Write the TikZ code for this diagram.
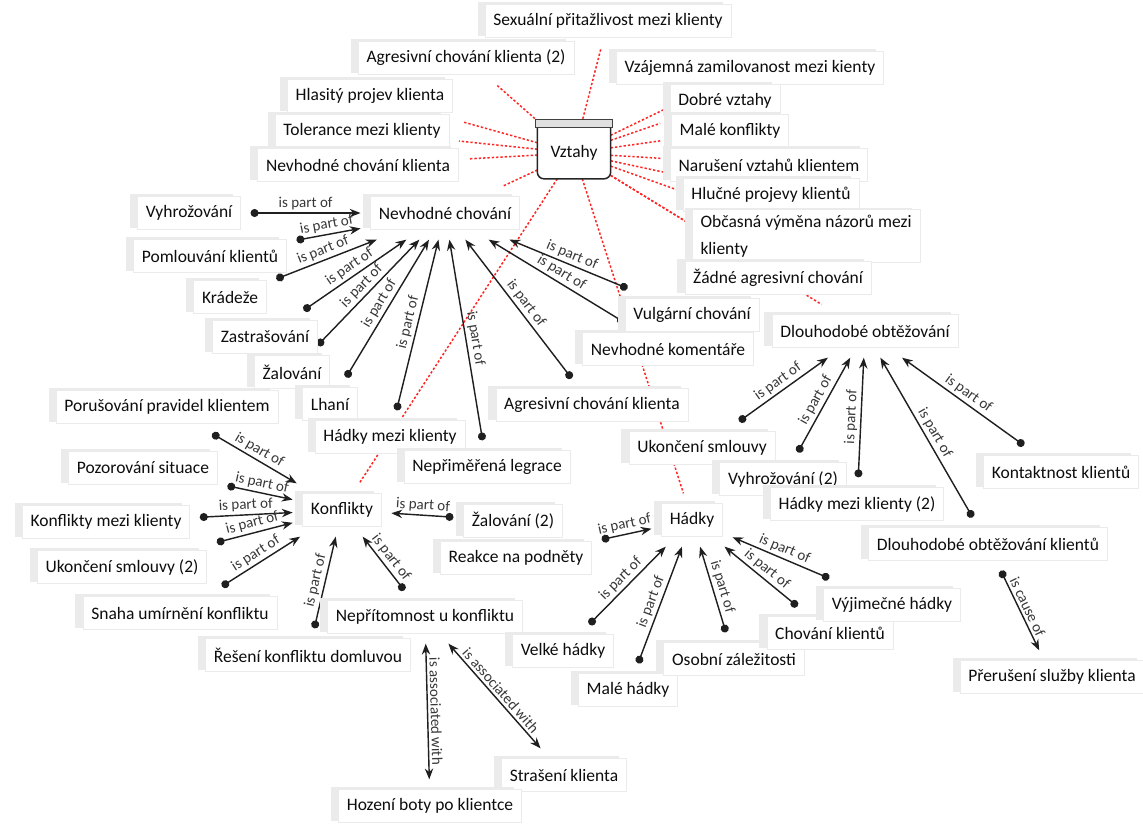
\documentclass[tikz,border=0pt]{standalone}
\usepackage{fontspec}
\setmainfont{Carlito}
\usetikzlibrary{arrows.meta,calc,backgrounds,shadows}

\begin{document}
\begin{tikzpicture}[x=0.6pt, y=-0.6pt,
    code/.style={draw=black!8, fill=white, text=black!95, font=\fontsize{10.5}{16.5}\selectfont,
      inner xsep=5pt, inner ysep=3pt, minimum height=20pt, outer sep=6pt,
      drop shadow={shadow xshift=-4.5pt, shadow yshift=1.2pt, fill=black!8, opacity=1}},
    group/.style={fill=white, text=black!95, font=\fontsize{10.5}{13}\selectfont, minimum width=40pt, minimum height=27pt, outer sep=2pt},
    partof/.style={line width=0.85pt, draw=black!88, {Circle[length=4.8pt]}-{Stealth[length=6.5pt, width=5pt]}},
    assoc/.style={line width=0.85pt, draw=black!88, {Stealth[length=6.5pt, width=5pt]}-{Stealth[length=6.5pt, width=5pt]}},
    rel/.style={draw=red!85, line width=0.9pt, dash pattern=on 1.4pt off 1.2pt},
    lbl/.style={font=\fontsize{9}{10}\selectfont, text=black!78, sloped, above, inner sep=1.5pt}
]
\useasboundingbox (0,0) rectangle (1143,824);

% relations around Vztahy
\node[group] (vztahy) at (574,153) {Vztahy};
\draw[line width=0.9pt, black!85, rounded corners=4pt] (vztahy.north west) -- (vztahy.south west) -- (vztahy.south east) -- (vztahy.north east);
\draw[line width=0.8pt, draw=black!75, fill=black!12] ($(vztahy.north west)+(-2,-8)$) rectangle ($(vztahy.north east)+(2,0)$);
\node[code] (sex) at (608,21) {Sexuální přitažlivost mezi klienty};
\node[code] (agr2) at (466,58) {Agresivní chování klienta (2)};
\node[code] (vzaj) at (750,68) {Vzájemná zamilovanost mezi kienty};
\node[code] (hlas) at (370,96) {Hlasitý projev klienta};
\node[code] (dobre) at (725,101) {Dobré vztahy};
\node[code] (toler) at (362,131) {Tolerance mezi klienty};
\node[code] (male) at (730,131) {Malé konflikty};
\node[code] (nevkl) at (358,165) {Nevhodné chování klienta};
\node[code] (narus) at (769,165) {Narušení vztahů klientem};
\node[code] (hlucne) at (771,195) {Hlučné projevy klientů};
\node[code, align=left] (obcas) at (806,236) {Občasná výměna názorů mezi\\klienty};
\node[code] (zadne) at (778,278) {Žádné agresivní chování};

% Nevhodné chování
\node[code] (nc) at (445,213) {Nevhodné chování};
\node[code] (vyhr) at (189,213) {Vyhrožování};
\node[code] (poml) at (210,256) {Pomlouvání klientů};
\node[code] (krad) at (230,297) {Krádeže};
\node[code] (zastr) at (265,337) {Zastrašování};
\node[code] (zal) at (292,372) {Žalování};
\node[code] (lhani) at (330,404) {Lhaní};
\node[code] (hadkymk) at (390,437) {Hádky mezi klienty};
\node[code] (neprim) at (487,467) {Nepřiměřená legrace};
\node[code] (agr) at (592,405) {Agresivní chování klienta};
\node[code] (nevkom) at (668,349) {Nevhodné komentáře};
\node[code] (vulg) at (692,315) {Vulgární chování};

% Konflikty
\node[code] (konf) at (342,510) {Konflikty};
\node[code] (porus) at (167,407) {Porušování pravidel klientem};
\node[code] (pozor) at (143,468) {Pozorování situace};
\node[code] (konfmk) at (106,522) {Konflikty mezi klienty};
\node[code] (ukon2) at (122,567) {Ukončení smlouvy (2)};
\node[code] (snaha) at (180,613) {Snaha umírnění konfliktu};
\node[code] (reseni) at (308,655) {Řešení konfliktu domluvou};
\node[code] (neprit) at (425,617) {Nepřítomnost u konfliktu};
\node[code] (zal2) at (513,521) {Žalování (2)};
\node[code] (reakce) at (516,558) {Reakce na podněty};
\node[code] (strase) at (564,775) {Strašení klienta};
\node[code] (hozeni) at (430,806) {Hození boty po klientce};

% Hádky
\node[code] (hadky) at (692,520) {Hádky};
\node[code] (velke) at (563,651) {Velké hádky};
\node[code] (malehad) at (628,690) {Malé hádky};
\node[code] (osobni) at (734,659) {Osobní záležitosti};
\node[code] (chovani) at (830,633) {Chování klientů};
\node[code] (vyjim) at (892,605) {Výjimečné hádky};

% Dlouhodobé obtěžování
\node[code] (dlouho) at (865,331) {Dlouhodobé obtěžování};
\node[code] (ukon) at (702,448) {Ukončení smlouvy};
\node[code] (vyhr2) at (783,479) {Vyhrožování (2)};
\node[code] (hadkymk2) at (857,504) {Hádky mezi klienty (2)};
\node[code] (kontakt) at (1061,472) {Kontaktnost klientů};
\node[code] (dlouhokl) at (988,544) {Dlouhodobé obtěžování klientů};
\node[code] (prerus) at (1052,677) {Přerušení služby klienta};

\begin{scope}[on background layer]
\fill[white] (0,0) rectangle (1143,824);
% dotted links of the group
\draw[rel] (vztahy) -- (sex);
\draw[rel] (vztahy) -- (agr2);
\draw[rel] (vztahy) -- (vzaj);
\draw[rel] (vztahy) -- (hlas);
\draw[rel] (vztahy) -- (dobre);
\draw[rel] (vztahy) -- (toler);
\draw[rel] (vztahy) -- (male);
\draw[rel] (vztahy) -- (nevkl);
\draw[rel] (vztahy) -- (narus);
\draw[rel] (vztahy) -- (hlucne);
\draw[rel] (vztahy) -- (obcas);
\draw[rel] (vztahy) -- (zadne);
\draw[rel] (vztahy) -- (nc);
\draw[rel] (vztahy) -- (konf);
\draw[rel] (vztahy) -- (hadky);
\draw[rel] (vztahy) -- (dlouho);
% into Nevhodné chování
\draw[partof] (vyhr) -- node[lbl] {is part of} (nc);
\draw[partof] (poml) -- node[lbl] {is part of} (nc);
\draw[partof] (krad) -- node[lbl] {is part of} (nc);
\draw[partof] (zastr) -- node[lbl] {is part of} (nc);
\draw[partof] (zal) -- node[lbl] {is part of} (nc);
\draw[partof] (lhani) -- node[lbl] {is part of} (nc);
\draw[partof] (hadkymk) -- node[lbl] {is part of} (nc);
\draw[partof] (neprim) -- node[lbl] {is part of} (nc);
\draw[partof] (agr) -- node[lbl] {is part of} (nc);
\draw[partof] (vulg) -- node[lbl] {is part of} (nc);
\draw[partof] (nevkom) -- node[lbl] {is part of} (nc);
% into Konflikty
\draw[partof] (porus) -- node[lbl] {is part of} (konf);
\draw[partof] (pozor) -- node[lbl] {is part of} (konf);
\draw[partof] (konfmk) -- node[lbl] {is part of} (konf);
\draw[partof] (ukon2) -- node[lbl] {is part of} (konf);
\draw[partof] (snaha) -- node[lbl] {is part of} (konf);
\draw[partof] (reseni) -- node[lbl] {is part of} (konf);
\draw[partof] (neprit) -- node[lbl] {is part of} (konf);
\draw[partof] (zal2) -- node[lbl] {is part of} (konf);
\draw[assoc] (neprit) -- node[lbl] {is associated with} (hozeni);
\draw[assoc] (neprit) -- node[lbl] {is associated with} (strase);
% into Hádky
\draw[partof] (reakce) -- node[lbl] {is part of} (hadky);
\draw[partof] (velke) -- node[lbl] {is part of} (hadky);
\draw[partof] (malehad) -- node[lbl] {is part of} (hadky);
\draw[partof] (osobni) -- node[lbl] {is part of} (hadky);
\draw[partof] (chovani) -- node[lbl] {is part of} (hadky);
\draw[partof] (vyjim) -- node[lbl] {is part of} (hadky);
% into Dlouhodobé obtěžování
\draw[partof] (ukon) -- node[lbl] {is part of} (dlouho);
\draw[partof] (vyhr2) -- node[lbl] {is part of} (dlouho);
\draw[partof] (hadkymk2) -- node[lbl] {is part of} (dlouho);
\draw[partof] (dlouhokl) -- node[lbl] {is part of} (dlouho);
\draw[partof] (kontakt) -- node[lbl] {is part of} (dlouho);
\draw[partof] (dlouhokl) -- node[lbl] {is cause of} (prerus);
\end{scope}
\end{tikzpicture}
\end{document}
